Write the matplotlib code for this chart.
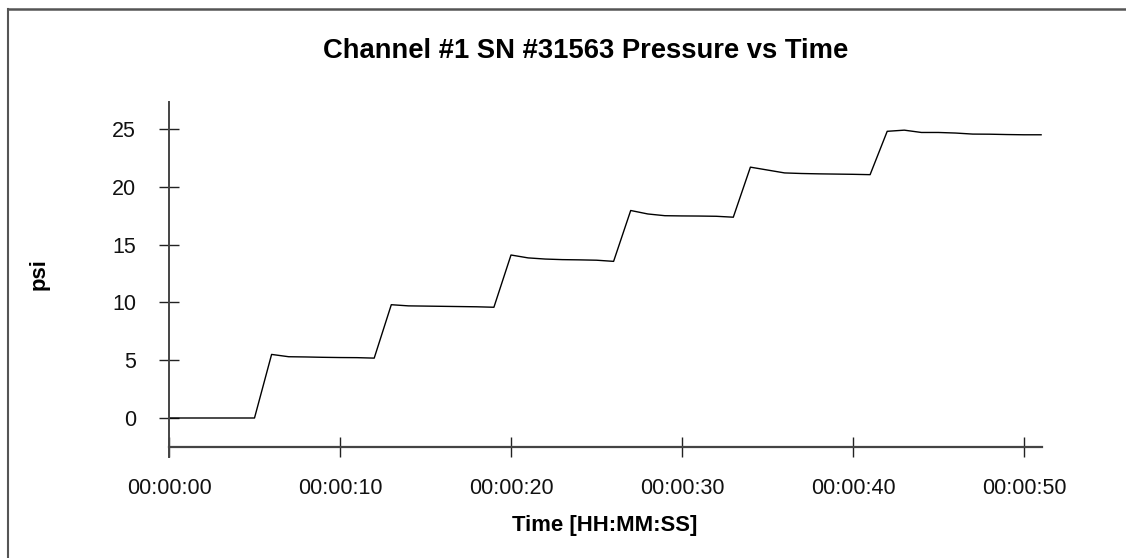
import matplotlib
matplotlib.use("Agg")
import matplotlib.pyplot as plt
from matplotlib.lines import Line2D

plt.rcParams['font.family'] = ['Liberation Sans', 'DejaVu Sans']

# Data: one sample per second
time_s = list(range(0, 52))
pressure_psi = [
    0.0, 0.0, 0.0, 0.0, 0.0, 0.0,
    5.5, 5.3, 5.28, 5.25, 5.23, 5.22, 5.18,
    9.8, 9.7, 9.68, 9.66, 9.64, 9.62, 9.58,
    14.1, 13.85, 13.75, 13.7, 13.68, 13.65, 13.55,
    17.95, 17.65, 17.5, 17.48, 17.47, 17.45, 17.37,
    21.7, 21.45, 21.2, 21.15, 21.12, 21.1, 21.08, 21.05,
    24.8, 24.9, 24.7, 24.7, 24.65, 24.56, 24.55, 24.52, 24.5, 24.5,
]
x_ticks = [0, 10, 20, 30, 40, 50]
x_tick_labels = ["00:00:00", "00:00:10", "00:00:20", "00:00:30", "00:00:40", "00:00:50"]
y_ticks = [0, 5, 10, 15, 20, 25]

title = "Channel #1 SN #31563 Pressure vs Time"
xlabel = "Time [HH:MM:SS]"
ylabel = "psi"

W, H = 1126, 558
fig = plt.figure(figsize=(W / 100, H / 100), dpi=100)
fig.patch.set_facecolor("white")

# axes geometry in pixels
left_px, right_px, top_px, bottom_px = 169, 1042, 102, 457
ax = fig.add_axes([left_px / W, 1 - bottom_px / H, (right_px - left_px) / W, (bottom_px - top_px) / H])
px_per_s = (1024 - 169) / 50.0
px_per_psi = (418 - 129) / 25.0
ax.set_xlim(0, (right_px - left_px) / px_per_s)
ax.set_ylim(-(bottom_px - 418) / px_per_psi, (418 - top_px) / px_per_psi)
ax.patch.set_alpha(0)

ax.plot(time_s, pressure_psi, color="black", lw=1.0)

for s in ["top", "right"]:
    ax.spines[s].set_visible(False)
ax.spines["left"].set_color("#444444")
ax.spines["left"].set_linewidth(1.4)
ax.spines["bottom"].set_color("#444444")
ax.spines["bottom"].set_linewidth(1.6)
ax.spines["bottom"].set_position(("data", -(447 - 418) / px_per_psi))

ax.set_xticks(x_ticks)
ax.set_xticklabels(x_tick_labels)
ax.set_yticks(y_ticks)
ax.tick_params(axis="both", direction="inout", length=13.7, width=1.0, color="#222222",
               labelsize=15.5, labelcolor="#111111")
ax.tick_params(axis="x", pad=15.5)
ax.tick_params(axis="y", pad=16.9)

fig.text(586 / W, 1 - 51 / H, title, ha="center", va="center", fontsize=19.7, fontweight="bold")
fig.text(605 / W, 1 - 525 / H, xlabel, ha="center", va="center", fontsize=15.9, fontweight="bold")
fig.text(39 / W, 1 - 274 / H, ylabel, ha="center", va="center", rotation=90, fontsize=15.9, fontweight="bold")

# page border (top and left)
fig.add_artist(Line2D([8 / W, 8 / W], [0, 1 - 9 / H], transform=fig.transFigure, color="#555555", lw=1.5))
fig.add_artist(Line2D([8 / W, 1], [1 - 9 / H, 1 - 9 / H], transform=fig.transFigure, color="#555555", lw=1.8))

fig.savefig("out.png", dpi=100)
